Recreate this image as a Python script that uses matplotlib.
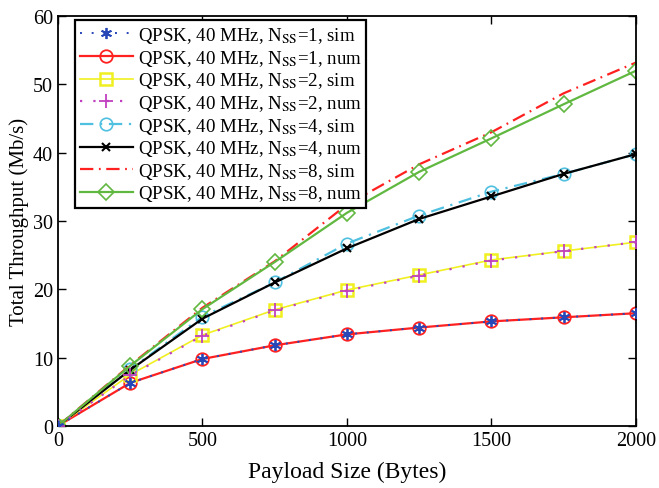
import matplotlib
matplotlib.use("Agg")
import matplotlib.pyplot as plt

plt.rcParams["font.family"] = ["Liberation Serif", "DejaVu Serif"]
plt.rcParams["mathtext.fontset"] = "stix"

# payload sizes (bytes)
payload = [0, 250, 500, 750, 1000, 1250, 1500, 1750, 2000]

# throughput (Mb/s)
nss1_sim = [0, 6.3, 9.8, 11.8, 13.4, 14.4, 15.3, 15.9, 16.5]
nss1_num = [0, 6.3, 9.8, 11.8, 13.4, 14.4, 15.3, 15.9, 16.5]
nss2_sim = [0, 7.5, 13.3, 17.0, 19.9, 22.1, 24.3, 25.6, 26.9]
nss2_num = [0, 7.4, 13.2, 16.9, 19.8, 22.0, 24.2, 25.6, 26.9]
nss4_sim = [0, 8.3, 16.0, 21.0, 26.7, 30.8, 34.3, 36.9, 39.8]
nss4_num = [0, 8.2, 15.7, 21.0, 26.0, 30.3, 33.6, 36.9, 39.8]
nss8_sim = [0, 8.9, 17.3, 24.1, 32.4, 38.3, 43.0, 48.7, 53.2]
nss8_num = [0, 8.8, 17.1, 24.0, 31.2, 37.2, 42.1, 47.1, 52.0]

fig = plt.figure(figsize=(6.59, 4.89), dpi=100)
ax = fig.add_axes([0.088, 0.127, 0.877, 0.838])

lab = "QPSK, 40 MHz, N$_{\\mathrm{SS}}$=%d, %s"
ax.plot(payload, nss1_sim, color="#2848b8", ls=(0, (1, 5)), marker=(6, 2, 0), ms=8, mew=1.3, lw=1.4,
        label=lab % (1, "sim"), zorder=5)
ax.plot(payload, nss1_num, color="#ff2020", ls="-", marker="o", ms=9, mfc="none", mew=1.3, lw=1.6,
        label=lab % (1, "num"))
ax.plot(payload, nss2_sim, color="#f0f020", ls="-", marker="s", ms=8.5, mfc="none", mew=1.8, lw=1.2,
        label=lab % (2, "sim"))
ax.plot(payload, nss2_num, color="#c040c0", ls=(0, (1, 5)), marker="+", ms=10, mew=1.3, lw=1.6,
        label=lab % (2, "num"), zorder=4)
ax.plot(payload, nss4_sim, color="#50c0e0", ls=(0, (6, 3, 1, 3)), marker="o", ms=9, mfc="none", mew=1.2,
        lw=1.6, label=lab % (4, "sim"))
ax.plot(payload, nss4_num, color="black", ls="-", marker="x", ms=6, mew=1.5, lw=1.6,
        label=lab % (4, "num"))
ax.plot(payload, nss8_sim, color="#ff2020", ls=(0, (6, 2.5, 0.8, 2.5)), lw=1.6,
        label=lab % (8, "sim"))
ax.plot(payload, nss8_num, color="#60b840", ls="-", marker="D", ms=8, mfc="none", mew=1.2, lw=1.6,
        label=lab % (8, "num"))

ax.set_xlim(0, 2000)
ax.set_ylim(0, 60)
ax.set_xticks([0, 500, 1000, 1500, 2000])
ax.set_yticks(range(0, 61, 10))
ax.tick_params(direction="in", top=True, right=True, labelsize=14.5, length=6, width=1)
for s in ax.spines.values():
    s.set_linewidth(1.3)

ax.set_xlabel("Payload Size (Bytes)", fontsize=17, labelpad=8)
ax.set_ylabel("Total Throughput (Mb/s)", fontsize=15, labelpad=3)

leg = ax.legend(loc="upper left", fontsize=13.6, handlelength=2.8, handletextpad=0.25,
                labelspacing=0.14, borderpad=0.25, borderaxespad=0.0, fancybox=False,
                framealpha=1, edgecolor="black", bbox_to_anchor=(0.03, 0.99))
leg.get_frame().set_linewidth(1.6)

fig.savefig("out.png", dpi=100)
